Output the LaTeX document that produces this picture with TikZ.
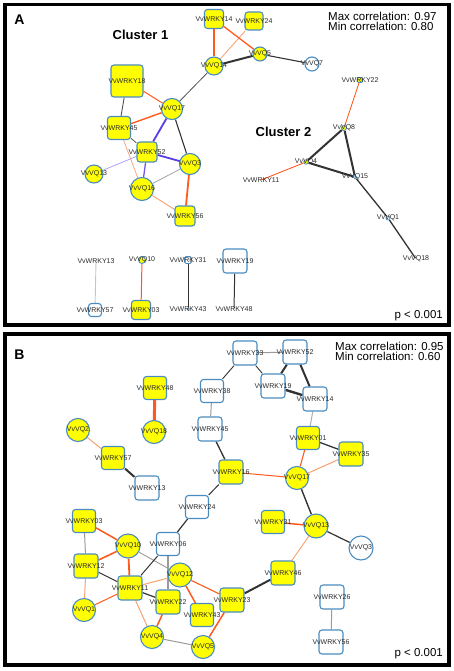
\documentclass[tikz,border=0pt]{standalone}
\usepackage{fontspec}
\setmainfont{Liberation Sans}
\usetikzlibrary{backgrounds}
\definecolor{nb}{HTML}{4A8CC0}
\definecolor{yf}{HTML}{FFFF00}
\definecolor{dk}{HTML}{333333}
\definecolor{gy}{HTML}{9A9A9A}
\definecolor{lg}{HTML}{C4C4C4}
\definecolor{orr}{HTML}{FF5A1E}
\definecolor{lor}{HTML}{F7A070}
\definecolor{pur}{HTML}{5A3CE6}
\definecolor{lpu}{HTML}{A898F0}
\definecolor{lbc}{HTML}{2A2A2A}
\begin{document}
\begin{tikzpicture}[x=1pt,y=-1pt,
 lbl/.style={font=\fontsize{7}{7.5}\selectfont, text=lbc, inner sep=0pt},
 L/.style={label={[lbl]center:#1}},
 base/.style={draw=nb, line width=1.1pt, inner sep=0pt, minimum size=#1},
 ysq/.style={base=#1, rectangle, rounded corners=3pt, fill=yf},
 wsq/.style={base=#1, rectangle, rounded corners=3pt, fill=white},
 yci/.style={base=#1, circle, fill=yf},
 wci/.style={base=#1, circle, fill=white},
 inv/.style={circle, inner sep=0pt, minimum size=1.5pt},
 big/.style={font=\fontsize{11.5}{10.5}\selectfont, inner sep=0pt, align=left},
]
\useasboundingbox (0,0) rectangle (454,671);

% ---------------- Panel A ----------------
\node[font=\fontsize{14}{14}\bfseries\selectfont, inner sep=0pt] (lA) at (19.5,20) {A};
\node[font=\fontsize{13}{13}\bfseries\selectfont, inner sep=0pt] (c1) at (140.5,34.5) {Cluster 1};
\node[font=\fontsize{13}{13}\bfseries\selectfont, inner sep=0pt] (c2) at (283.5,132) {Cluster 2};
\node[big, anchor=north west] (mcA) at (328,11.5) {Max correlation: 0.97\\Min correlation: 0.80};
\node[big, anchor=base east] (pA) at (443,318) {p < 0.001};

\node[ysq=19, L=VvWRKY14] (a14) at (214,19) {};
\node[ysq=18, L=VvWRKY24] (a24) at (254,21) {};
\node[yci=18, L=VvVQ14] (aq14) at (214,66) {};
\node[yci=14, L=VvVQ5] (aq5) at (260,54) {};
\node[wci=14, L=VvVQ7] (aq7) at (312,64) {};
\node[ysq=32, L=VvWRKY18] (a18) at (127,81) {};
\node[yci=21, L=VvVQ17] (aq17) at (172,109) {};
\node[ysq=23, L=VvWRKY45] (a45) at (119,128) {};
\node[ysq=20, L=VvWRKY52] (a52) at (147,152) {};
\node[yci=21, L=VvVQ3] (aq3) at (190,164) {};
\node[yci=18, L=VvVQ13] (aq13) at (94,174) {};
\node[yci=23, L=VvVQ16] (aq16) at (142,189) {};
\node[ysq=20, L=VvWRKY56] (a56) at (185,216) {};

\node[ysq=5, line width=0.8pt, rounded corners=1pt, L=VvWRKY22] (a22) at (360,80) {};
\node[yci=5, line width=0.8pt, L=VvVQ8] (aq8) at (344,128) {};
\node[yci=4.5, line width=0.8pt, L=VvVQ4] (aq4) at (306,162) {};
\node[wci=3.5, line width=0.8pt, L=VvVQ15] (aq15) at (355,177) {};
\node[inv, L=VvWRKY11] (aw11) at (261,180) {};
\node[wci=4, line width=0.8pt, L=VvVQ1] (aq1) at (388,218) {};
\node[inv, L=VvVQ18] (aq18) at (416,259) {};

\node[inv, L=VvWRKY13] (a13) at (96,261) {};
\node[wsq=13, L=VvWRKY57] (a57) at (95,310) {};
\node[yci=7, line width=0.9pt, L=VvVQ10] (aq10) at (142,260) {};
\node[ysq=19, L=VvWRKY03] (a03) at (141,310) {};
\node[wsq=7, line width=0.9pt, rounded corners=1.5pt, L=VvWRKY31] (a31) at (188,260) {};
\node[wci=2.5, line width=0.7pt, L=VvWRKY43] (a43) at (188,309) {};
\node[wsq=24, L=VvWRKY19] (a19) at (235,261) {};
\node[inv, L=VvWRKY48] (a48) at (234,309) {};

% ---------------- Panel B ----------------
\node[font=\fontsize{14}{14}\bfseries\selectfont, inner sep=0pt] (lB) at (19.5,355) {B};
\node[big, anchor=north west] (mcB) at (335,341.5) {Max correlation: 0.95\\Min correlation: 0.60};
\node[big, anchor=base east] (pB) at (443,656.5) {p < 0.001};

\node[ysq=23, L=VvWRKY48] (b48) at (155,388) {};
\node[yci=23, L=VvVQ18] (bq18) at (154,432) {};
\node[yci=23, L=VvVQ2] (bq2) at (78,430) {};
\node[ysq=23, L=VvWRKY57] (b57) at (113,458) {};
\node[wsq=24, L=VvWRKY13] (b13) at (147,488) {};
\node[wsq=23, L=VvWRKY38] (b38) at (212,391) {};
\node[wsq=24, L=VvWRKY45] (b45) at (210,429) {};
\node[ysq=24, L=VvWRKY16] (b16) at (231,472) {};
\node[wsq=23, L=VvWRKY24] (b24) at (197,507) {};
\node[wsq=24, L=VvWRKY33] (b33) at (245,353) {};
\node[wsq=24, L=VvWRKY52] (b52) at (295,352) {};
\node[wsq=24, L=VvWRKY19] (b19) at (273,386) {};
\node[wsq=24, L=VvWRKY14] (b14) at (315,399) {};
\node[ysq=23, L=VvWRKY01] (b01) at (308,438) {};
\node[ysq=24, L=VvWRKY35] (b35) at (351,454) {};
\node[yci=23, L=VvVQ17] (bq17) at (297,478) {};
\node[ysq=23, L=VvWRKY03] (b03) at (84,521) {};
\node[yci=24, L=VvVQ10] (bq10) at (128,546) {};
\node[wsq=23, L=VvWRKY06] (b06) at (168,544) {};
\node[ysq=24, L=VvWRKY12] (b12) at (86,566) {};
\node[ysq=24, L=VvWRKY11] (b11) at (130,588) {};
\node[yci=24, L=VvVQ12] (bq12) at (180,575) {};
\node[yci=23, L=VvVQ1] (bq1) at (84,610) {};
\node[ysq=24, L=VvWRKY22] (b22) at (168,602) {};
\node[ysq=23, L=VvWRKY43] (b43) at (202,615) {};
\node[ysq=24, L=VvWRKY23] (b23) at (232,600) {};
\node[yci=23, L=VvVQ4] (bq4) at (152,637) {};
\node[yci=23, L=VvVQ5] (bq5) at (203,647) {};
\node[ysq=23, L=VvWRKY31] (b31) at (273,522) {};
\node[yci=24, L=VvVQ13] (bq13) at (316,526) {};
\node[wci=24, L=VvVQ3] (bq3) at (361,548) {};
\node[ysq=24, L=VvWRKY46] (b46) at (283,573) {};
\node[wsq=24, L=VvWRKY26] (b26) at (332,597) {};
\node[wsq=24, L=VvWRKY56] (b56) at (331,642) {};

\begin{pgfonlayer}{background}
\draw[line width=3.6pt] (5,4.5) rectangle (449,325);
\draw[line width=3.6pt] (5,334) rectangle (449,665);

% panel A edges
\draw[orr, line width=1.2pt] (a14) -- (aq14);
\draw[lor, line width=0.8pt] (a24) -- (aq14);
\draw[orr, line width=1.3pt] (a14) -- (aq5);
\draw[dk, line width=2pt] (aq14) -- (aq5);
\draw[dk, line width=1.1pt] (aq5) -- (aq7);
\draw[dk!85, line width=0.8pt] (aq14) -- (aq17);
\draw[orr, line width=1pt] (a18) -- (aq17);
\draw[dk!85, line width=0.9pt] (a18) -- (a45);
\draw[orr, line width=1.4pt] (a45) -- (aq17);
\draw[pur, line width=1.8pt] (aq17) -- (a52);
\draw[dk, line width=1.1pt] (aq17) -- (aq3);
\draw[dk!85, line width=0.8pt] (a45) -- (a52);
\draw[lor, line width=0.7pt] (a45) -- (aq16);
\draw[pur, line width=1.8pt] (a52) -- (aq3);
\draw[pur!85, line width=1.3pt] (a52) -- (aq16);
\draw[lpu, line width=0.7pt] (a52) -- (aq13);
\draw[gy, line width=0.7pt] (aq16) -- (aq3);
\draw[lor, line width=0.9pt] (aq16) -- (a56);
\draw[orr, line width=1.8pt] (aq3) -- (a56);
\draw[orr, line width=0.9pt] (a22) -- (aq8);
\draw[dk, line width=2pt] (aq8) -- (aq4);
\draw[dk, line width=2pt] (aq8) -- (aq15);
\draw[dk, line width=2pt] (aq4) -- (aq15);
\draw[orr, line width=0.9pt] (aq4) -- (aw11);
\draw[dk, line width=1.3pt] (aq15) -- (aq1);
\draw[dk, line width=1.3pt] (aq1) -- (aq18);
\draw[lg, line width=0.9pt] (a13) -- (a57);
\draw[orr, line width=1pt] (aq10) -- (a03);
\draw[dk, line width=1pt] (a31) -- (a43);
\draw[dk, line width=1pt] (a19) -- (a48);

% panel B edges
\draw[orr, line width=3pt] (b48) -- (bq18);
\draw[lor, line width=1pt] (bq2) -- (b57);
\draw[dk, line width=2pt] (b57) -- (b13);
\draw[gy, line width=1pt] (b33) -- (b52);
\draw[dk, line width=0.9pt] (b33) -- (b38);
\draw[dk, line width=0.9pt] (b33) -- (b19);
\draw[dk, line width=2pt] (b52) -- (b19);
\draw[dk, line width=2pt] (b52) -- (b14);
\draw[dk, line width=2.4pt] (b19) -- (b14);
\draw[gy, line width=1pt] (b38) -- (b45);
\draw[dk, line width=1.3pt] (b45) -- (b16);
\draw[dk, line width=1pt] (b16) -- (b24);
\draw[orr, line width=1pt] (b16) -- (bq17);
\draw[gy!80, line width=1pt] (b14) -- (b01);
\draw[orr, line width=1.1pt] (b01) -- (bq17);
\draw[dk, line width=1.3pt] (b01) -- (b35);
\draw[lor, line width=1pt] (b35) -- (bq17);
\draw[dk, line width=1.4pt] (bq17) -- (bq13);
\draw[orr, line width=1.5pt] (b31) -- (bq13);
\draw[dk, line width=1.2pt] (bq13) -- (bq3);
\draw[lor, line width=0.9pt] (b46) -- (bq13);
\draw[dk, line width=2pt] (b23) -- (b46);
\draw[gy, line width=1pt] (b26) -- (b56);
\draw[orr, line width=1.5pt] (b03) -- (bq10);
\draw[gy, line width=1pt] (b03) -- (b12);
\draw[orr, line width=1.6pt] (b12) -- (bq10);
\draw[dk, line width=1.1pt] (b12) -- (b11);
\draw[lor, line width=1pt] (b12) -- (bq1);
\draw[orr, line width=1pt] (bq1) -- (b11);
\draw[orr, line width=1.8pt] (bq10) -- (b11);
\draw[gy, line width=0.9pt] (bq10) -- (bq12);
\draw[dk, line width=1pt] (b06) -- (b11);
\draw[gy, line width=1.1pt] (b06) -- (b22);
\draw[dk, line width=1.2pt] (b06) -- (b24);
\draw[lor, line width=1pt] (b11) -- (bq12);
\draw[dk, line width=1.2pt] (b11) -- (b22);
\draw[lor, line width=1pt] (b11) -- (bq4);
\draw[orr, line width=1.5pt] (b22) -- (bq4);
\draw[orr, line width=1.5pt] (bq12) -- (b43);
\draw[orr, line width=1.1pt] (bq12) -- (b23);
\draw[orr, line width=1.5pt] (b23) -- (bq5);
\draw[gy, line width=1pt] (bq4) -- (bq5);
\end{pgfonlayer}
\end{tikzpicture}
\end{document}
